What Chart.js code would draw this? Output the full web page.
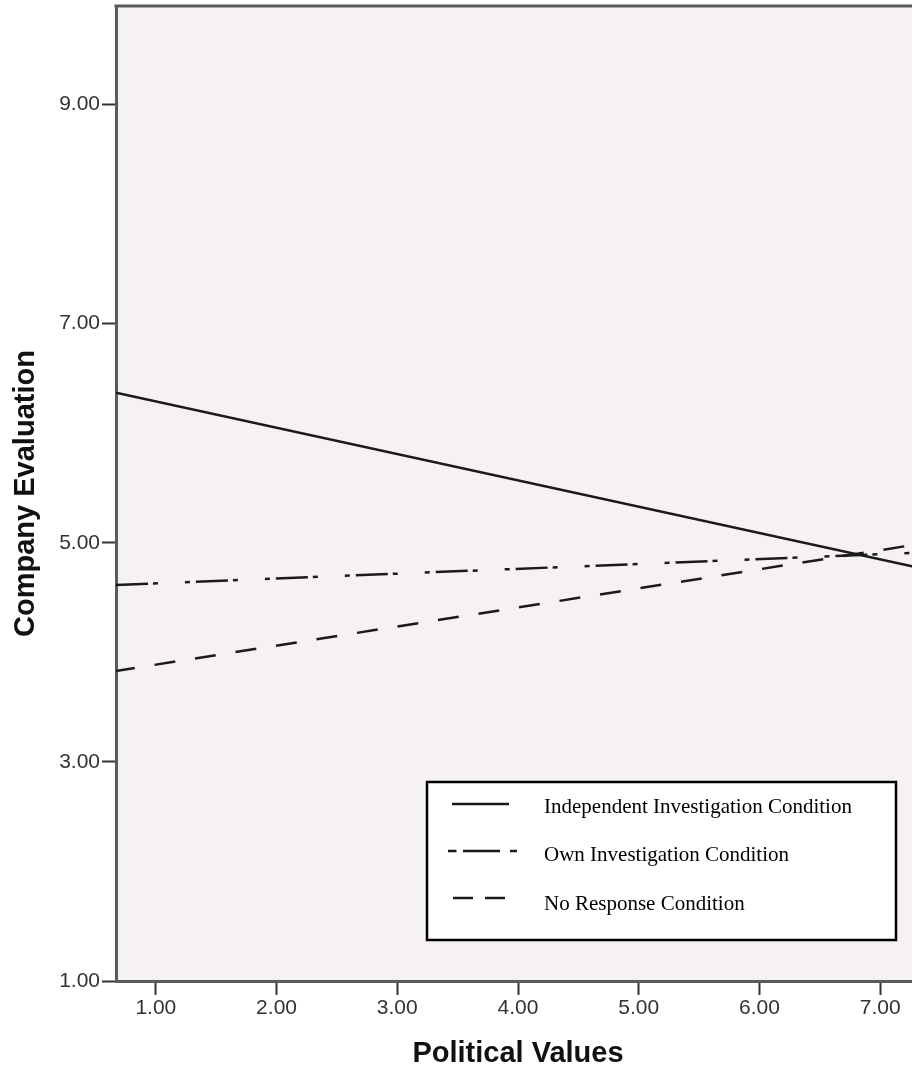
<!DOCTYPE html>
<html>
<head>
<meta charset="utf-8">
<script src="https://cdn.jsdelivr.net/npm/chart.js@4"></script>
<style>
    html, body { margin: 0; padding: 0; background: #fff; overflow: hidden; }
    canvas { display: block; }
</style>
</head>
<body>
<canvas id="chart" width="920" height="1074"></canvas>
<script>
// Values (regression lines, ends at the axis limits)
const politicalValues = [0.67, 7.33];
const independentInvestigation = [6.37, 4.77];
const ownInvestigation = [4.615, 4.91];
const noResponse = [3.83, 4.99];

const xTickValues = [1, 2, 3, 4, 5, 6, 7];
const yTickValues = [1, 3, 5, 7, 9];

const seriesNames = ['Independent Investigation Condition', 'Own Investigation Condition', 'No Response Condition'];

function points(ys) {
    return politicalValues.map((x, i) => ({ x: x, y: ys[i] }));
}

const lineColor = '#1a1a1a';
const axisColor = '#5a5a5a';
const plotBg = '#f6f1f5';

// Plot background and top frame
const framePlugin = {
    id: 'frame',
    beforeDraw(chart) {
        const { ctx, chartArea: a } = chart;
        ctx.save();
        ctx.fillStyle = plotBg;
        ctx.fillRect(a.left, a.top, a.right - a.left, a.bottom - a.top);
        ctx.restore();
    },
    afterDraw(chart) {
        const { ctx, chartArea: a } = chart;
        ctx.save();
        ctx.strokeStyle = axisColor;
        ctx.lineWidth = 3;
        ctx.beginPath();
        ctx.moveTo(a.left - 1.5, a.top);
        ctx.lineTo(a.right, a.top);
        ctx.stroke();
        ctx.restore();
    }
};

// Legend box drawn inside the plot, like the original figure
const boxLegend = {
    id: 'boxLegend',
    afterDraw(chart) {
        const ctx = chart.ctx;
        ctx.save();
        ctx.fillStyle = '#fff';
        ctx.fillRect(427, 782, 469, 158);
        ctx.strokeStyle = '#000';
        ctx.lineWidth = 2.5;
        ctx.strokeRect(427, 782, 469, 158);

        const samples = [
            { y: 804, x0: 452, x1: 509, dash: [] },
            { y: 851, x0: 448, x1: 517, dash: [8.5, 6.5, 37, 10, 7] },
            { y: 898, x0: 453, x1: 505, dash: [20, 12] }
        ];
        ctx.strokeStyle = lineColor;
        ctx.lineWidth = 2.5;
        samples.forEach(s => {
            ctx.setLineDash(s.dash);
            ctx.beginPath();
            ctx.moveTo(s.x0, s.y);
            ctx.lineTo(s.x1, s.y);
            ctx.stroke();
        });
        ctx.setLineDash([]);

        ctx.fillStyle = '#000';
        ctx.font = '21px "Liberation Serif", "Times New Roman", serif';
        ctx.textAlign = 'left';
        ctx.textBaseline = 'alphabetic';
        const baselines = [812.5, 860.5, 910];
        seriesNames.forEach((name, i) => ctx.fillText(name, 544, baselines[i]));
        ctx.restore();
    }
};

// keep the plot box exactly where the original has it
function noPad(scale) {
    scale.paddingTop = 0;
    scale.paddingBottom = 0;
    scale.paddingLeft = 0;
    scale.paddingRight = 0;
}

const tickFont = { family: '"Liberation Sans", Arial, sans-serif', size: 21 };
const titleFont = { family: '"Liberation Sans", Arial, sans-serif', size: 29, weight: 'bold' };

new Chart(document.getElementById('chart'), {
    type: 'scatter',
    data: {
        datasets: [
            {
                label: seriesNames[0],
                data: points(independentInvestigation),
                showLine: true,
                borderColor: lineColor,
                borderWidth: 2.5,
                pointRadius: 0
            },
            {
                label: seriesNames[1],
                data: points(ownInvestigation),
                showLine: true,
                borderColor: lineColor,
                borderWidth: 2.5,
                borderDash: [32, 5, 5, 27, 5, 6],
                pointRadius: 0
            },
            {
                label: seriesNames[2],
                data: points(noResponse),
                showLine: true,
                borderColor: lineColor,
                borderWidth: 2.5,
                borderDash: [21, 20],
                borderDashOffset: 2,
                pointRadius: 0
            }
        ]
    },
    options: {
        responsive: false,
        animation: false,
        devicePixelRatio: 1,
        layout: { padding: { top: 6, right: 0, bottom: 0, left: 0 } },
        plugins: {
            legend: { display: false },
            tooltip: { enabled: false }
        },
        scales: {
            x: {
                type: 'linear',
                min: politicalValues[0],
                max: politicalValues[1],
                afterBuildTicks: scale => { scale.ticks = xTickValues.map(v => ({ value: v })); },
                afterFit: scale => { scale.height = 93; noPad(scale); },
                ticks: {
                    color: '#333',
                    font: tickFont,
                    padding: 1,
                    maxRotation: 0,
                    callback: v => Number(v).toFixed(2)
                },
                grid: {
                    drawOnChartArea: false,
                    drawTicks: true,
                    tickLength: 14,
                    tickWidth: 2,
                    tickColor: '#333'
                },
                border: { display: true, color: axisColor, width: 3 },
                title: {
                    display: true,
                    text: 'Political Values',
                    color: '#111',
                    font: titleFont,
                    padding: { top: 0, bottom: 3 }
                }
            },
            y: {
                type: 'linear',
                min: 1,
                max: 9.9,
                afterBuildTicks: scale => { scale.ticks = yTickValues.map(v => ({ value: v })); },
                afterFit: scale => { scale.width = 116; noPad(scale); },
                ticks: {
                    color: '#333',
                    font: tickFont,
                    padding: 2,
                    callback: v => Number(v).toFixed(2)
                },
                grid: {
                    drawOnChartArea: false,
                    drawTicks: true,
                    tickLength: 14,
                    tickWidth: 2,
                    tickColor: '#333'
                },
                border: { display: true, color: axisColor, width: 3 },
                title: {
                    display: true,
                    text: 'Company Evaluation',
                    color: '#111',
                    font: titleFont,
                    padding: { top: 9, bottom: 0 }
                }
            }
        }
    },
    plugins: [framePlugin, boxLegend]
});
</script>
</body>
</html>
